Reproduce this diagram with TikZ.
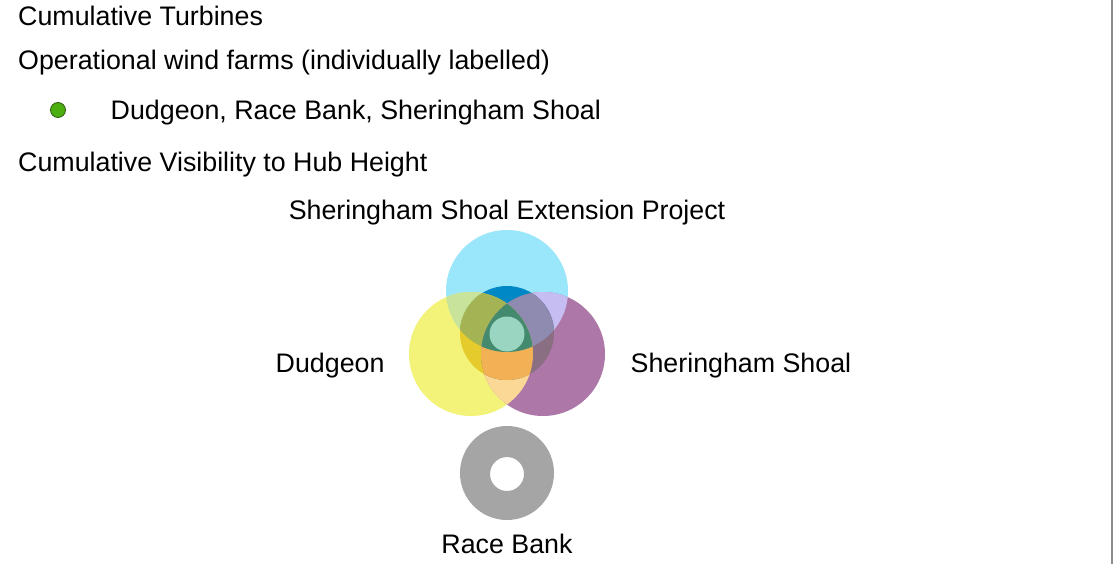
\documentclass[tikz,border=0pt]{standalone}
\usepackage{fontspec}
\setmainfont{Liberation Sans}
\definecolor{cyanc}{HTML}{9AE6FB}
\definecolor{yelc}{HTML}{F3F37A}
\definecolor{purc}{HTML}{AD78A8}
\definecolor{cyc}{HTML}{C8E49A}
\definecolor{cpc}{HTML}{C6BEF2}
\definecolor{ypc}{HTML}{FCD897}
\definecolor{mc}{HTML}{0088C6}
\definecolor{my}{HTML}{E5CC2C}
\definecolor{mp}{HTML}{8A6F82}
\definecolor{mcy}{HTML}{A4B455}
\definecolor{mcp}{HTML}{8F8AB0}
\definecolor{myp}{HTML}{F2B154}
\definecolor{mall}{HTML}{448A6F}
\definecolor{mint}{HTML}{9AD5C1}
\definecolor{ringc}{HTML}{A5A5A5}
\definecolor{dotc}{HTML}{4DAE10}
\definecolor{dotd}{HTML}{2F5A10}
\begin{document}
\begin{tikzpicture}[x=1pt,y=-1pt,
  lbl/.style={font=\fontsize{26.8}{30}\selectfont, inner sep=0pt, text=black}]
\useasboundingbox (0,0) rectangle (1113,564);
\fill[white] (0,0) rectangle (1113,564);
\draw[color=black!45, line width=2pt] (1112,0) -- (1112,564);
\coordinate (C) at (507,291);
\coordinate (Y) at (471,354);
\coordinate (P) at (543,354);
\coordinate (M) at (507,333);
% base circles
\fill[cyanc] (C) circle (61);
\fill[yelc] (Y) circle (62);
\fill[purc] (P) circle (62);
\begin{scope}\clip (C) circle (61); \fill[cyc] (Y) circle (62); \end{scope}
\begin{scope}\clip (C) circle (61); \fill[cpc] (P) circle (62); \end{scope}
\begin{scope}\clip (Y) circle (62); \fill[ypc] (P) circle (62); \end{scope}
% central zone
\begin{scope}
  \clip (M) circle (47);
  \fill[mc] (C) circle (61);
  \fill[my] (Y) circle (62);
  \fill[mp] (P) circle (62);
  \begin{scope}\clip (C) circle (61); \fill[mcy] (Y) circle (62); \end{scope}
  \begin{scope}\clip (C) circle (61); \fill[mcp] (P) circle (62); \end{scope}
  \begin{scope}\clip (Y) circle (62); \fill[myp] (P) circle (62); \end{scope}
  \begin{scope}\clip (C) circle (61); \clip (Y) circle (62); \fill[mall] (P) circle (62); \end{scope}
\end{scope}
\fill[mint] (507,334) circle (17.5);
% race bank ring
\fill[ringc, even odd rule] (507,473) circle (47) (507,474) circle (17);
% legend dot
\node[circle, fill=dotc, draw=dotd, line width=0.8pt, minimum size=15pt, inner sep=0pt] (dot) at (58,110) {};
% texts
\node[lbl, anchor=base west] (t1) at (18,25.5) {Cumulative Turbines};
\node[lbl, anchor=base west] (t2) at (18,69.5) {Operational wind farms (individually labelled)};
\node[lbl, anchor=base west] (t3) at (110.5,119.5) {Dudgeon, Race Bank, Sheringham Shoal};
\node[lbl, anchor=base west] (t4) at (18,171.5) {Cumulative Visibility to Hub Height};
\node[lbl, anchor=base] (sse) at (507,219) {Sheringham Shoal Extension Project};
\node[lbl, anchor=base west] (dud) at (275.5,372) {Dudgeon};
\node[lbl, anchor=base west] (ss) at (630.5,372) {Sheringham Shoal};
\node[lbl, anchor=base] (rb) at (507,553) {Race Bank};
\end{tikzpicture}
\end{document}
